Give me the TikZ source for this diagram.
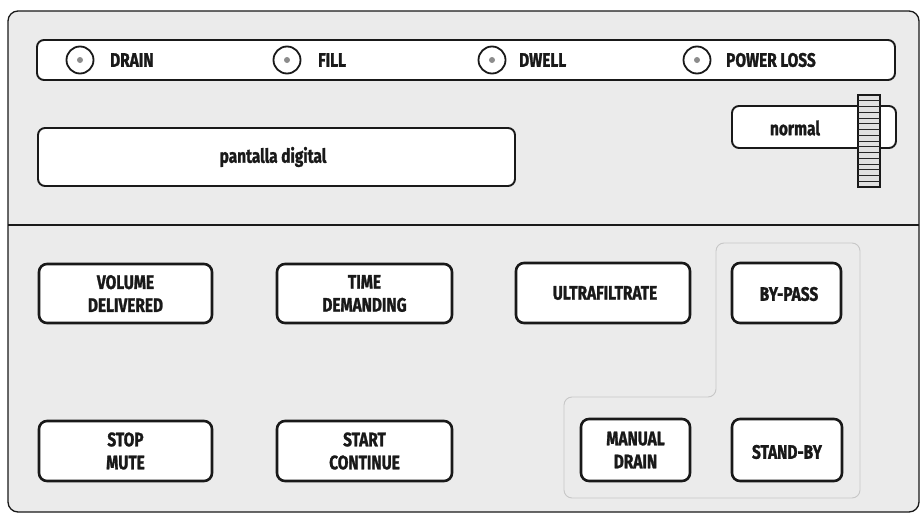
\documentclass[tikz,border=0pt]{standalone}
\usepackage{fontspec}
\newfontfamily\pf{Fira Sans}[FakeStretch=0.79,FakeBold=1.3]
\begin{document}
\begin{tikzpicture}[x=1pt,y=-1pt,
  panel/.style={draw=black!90,line width=1.9pt,fill=white,rounded corners=7pt},
  btn/.style={panel,line width=2.6pt,rounded corners=8pt},
  lbl/.style={text=black!90,font=\pf\fontsize{19.5}{22}\selectfont\bfseries,align=center,inner sep=0pt},
  lamp/.style={circle,draw=black!90,line width=1.8pt,fill=white,minimum size=27pt,inner sep=0pt},
  dot/.style={circle,fill=black!45,minimum size=6pt,inner sep=0pt},
  grp/.style={draw=black!22,line width=0.9pt,rounded corners=8pt}]
\useasboundingbox (0,0) rectangle (921,514);
% outer panel
\draw[fill=black!8,draw=black!90,line width=1.3pt,rounded corners=10pt] (8,11) rectangle (919,512);
\draw[black!90,line width=1.3pt] (8,225) -- (919,225);
% indicator strip
\draw[panel] (37,40) rectangle (895,80);
\node[lamp] (l1) at (80,60) {}; \node[dot] at (l1) {};
\node[lamp] (l2) at (287,60) {}; \node[dot] at (l2) {};
\node[lamp] (l3) at (492,60) {}; \node[dot] at (l3) {};
\node[lamp] (l4) at (697,60) {}; \node[dot] at (l4) {};
\node[lbl,anchor=west] (t1) at (110,60) {DRAIN};
\node[lbl,anchor=west] (t2) at (318,60) {FILL};
\node[lbl,anchor=west] (t3) at (519,60) {DWELL};
\node[lbl,anchor=west] (t4) at (726,60) {POWER LOSS};
% display
\draw[panel] (38,128) rectangle (515,186);
\node[lbl] (disp) at (273,157) {pantalla digital};
% normal selector
\draw[panel] (732,106) rectangle (896,148);
\node[lbl] (norm) at (795,128) {normal};
\draw[fill=black!12,draw=black!90,line width=1.4pt] (858,95) rectangle (880,187);
\foreach \i in {1,...,15} \draw[black!85,line width=0.8pt] (858,{95+\i*92/16}) -- (880,{95+\i*92/16});
% group outline
\draw[grp] (716,243) -- (860,243) -- (860,498) -- (564,498) -- (564,397) -- (716,397) -- cycle;
% buttons
\draw[btn] (39,264) rectangle (212,323);
\node[lbl] (b1) at (125.5,293.5) {VOLUME\\[1pt]DELIVERED};
\draw[btn] (277,264) rectangle (452,323);
\node[lbl] (b2) at (364.5,293.5) {TIME\\[1pt]DEMANDING};
\draw[btn] (516,263) rectangle (690,323);
\node[lbl] (b3) at (605,293) {ULTRAFILTRATE};
\draw[btn] (732,263) rectangle (841,323);
\node[lbl] (b4) at (789,294) {BY-PASS};
\draw[btn] (39,421) rectangle (212,481);
\node[lbl] (b5) at (125.5,451) {STOP\\[1pt]MUTE};
\draw[btn] (277,421) rectangle (452,481);
\node[lbl] (b6) at (364.5,451) {START\\[1pt]CONTINUE};
\draw[btn] (581,419) rectangle (690,481);
\node[lbl] (b7) at (635.5,450) {MANUAL\\[1pt]DRAIN};
\draw[btn] (732,419) rectangle (842,481);
\node[lbl] (b8) at (787,452) {STAND-BY};
\end{tikzpicture}
\end{document}
